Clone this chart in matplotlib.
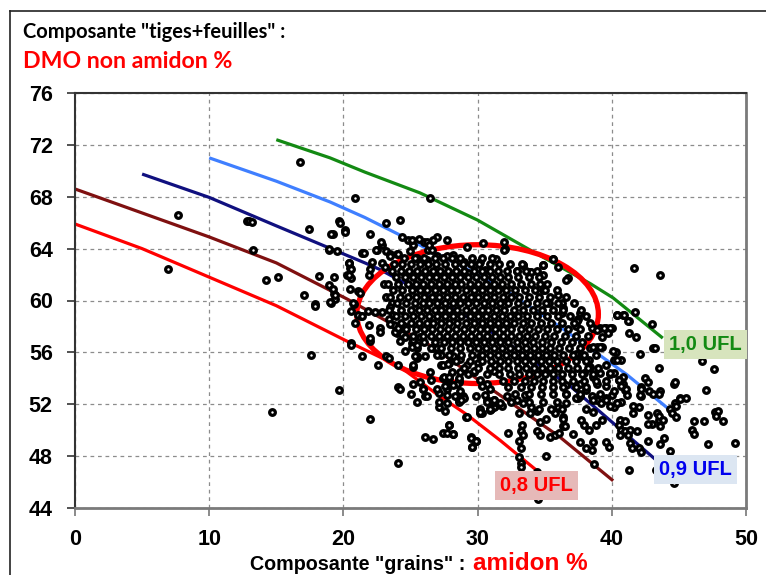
import matplotlib
matplotlib.use("Agg")
import matplotlib.pyplot as plt
from matplotlib.patches import Ellipse
from matplotlib.lines import Line2D

# ---------------- data ----------------
x_ticks = [0, 10, 20, 30, 40, 50]
y_ticks = [44, 48, 52, 56, 60, 64, 68, 72, 76]

# iso-UFL curves (amidon %, DMO non amidon %)
ufl080_x = [0, 5, 10, 15, 20, 24.2, 27.2, 29.2, 31.7, 34.4]
ufl080_y = [65.9, 64.0, 61.8, 59.6, 57.0, 54.9, 52.6, 51.2, 49.2, 46.9]
ufl085_x = [0, 10, 15, 20.3, 26.7, 30.7, 36.1, 40.1]
ufl085_y = [68.6, 64.9, 62.9, 60.1, 56.4, 53.4, 49.5, 46.1]
ufl090_x = [5, 10, 14.9, 21.6, 22.7, 30.0, 36.9, 43.3, 44.9]
ufl090_y = [69.75, 67.95, 65.8, 62.9, 62.4, 58.3, 53.4, 47.7, 46.0]
ufl095_x = [10, 15, 19, 21.6, 24.5, 28.9, 32.2, 36.1, 41.1, 45.1]
ufl095_y = [71.0, 69.2, 67.6, 66.4, 64.9, 62.6, 60.7, 58.0, 54.3, 50.9]
ufl100_x = [15, 19, 21.6, 25.7, 30.0, 33.9, 38.4, 40.1, 43.8]
ufl100_y = [72.4, 71.0, 69.9, 68.3, 66.2, 63.9, 61.3, 60.2, 57.1]

# ellipse of the main cloud
ell_center = (30.0, 58.95)
ell_width = 18.0
ell_height = 10.7

# sample points (amidon %, DMO non amidon %) - outer / sparse
outer_points = [
    (16.8,70.7),(20.9,67.9),(26.45,67.9),(7.7,66.6),(12.8,66.1),(13.0,66.1),(13.2,66.05),
    (17.4,65.5),(19.7,66.1),(20.1,65.4),(19.2,65.1),(13.3,63.9),(18.9,63.9),(19.5,63.8),
    (21.4,63.7),(6.9,62.4),(20.4,62.9),(20.5,62.5),(20.3,62.0),(20.6,61.7),(18.2,61.9),
    (19.3,61.8),(15.1,61.8),(14.2,61.6),(18.9,61.2),(20.5,60.9),(21.1,60.7),(17.1,60.4),
    (19.3,60.5),(19.4,60.1),(19.1,59.8),(17.9,59.7),(20.8,59.7),(20.6,59.2),(21.3,58.8),
    (21.1,58.9),(20.9,58.3),(20.6,56.7),(17.6,55.8),(14.7,51.4),(19.7,53.1),(22.0,50.9),
    (24.1,47.5),(21.4,55.7),(22.6,55.0),(24.1,53.3),(25.0,52.8),(25.5,52.2),(26.1,52.6),
    (27.1,51.8),(27.6,51.5),(26.1,49.5),(26.7,49.3),(27.4,49.8),(27.9,50.4),(28.2,49.7),
    (29.1,51.0),(29.5,49.5),(29.9,49.2),(29.6,48.7),(27.1,52.9),(27.7,53.2),(28.6,52.3),
    (28.9,52.6),(29.9,52.6),(30.2,51.3),(30.7,52.3),(31.0,51.6),(31.3,51.9),(25.2,53.6),
    (25.7,53.7),(25.9,53.2),(26.5,53.9),(23.2,55.7),(23.4,55.6),(24.1,55.0),(25.2,54.9),
    (25.5,55.6),(26.1,55.7),(24.6,56.1),(27.3,55.0),(27.9,55.2),(27.4,54.0),(27.9,54.0),
    (28.6,53.9),(21.9,58.1),(22.7,57.9),(22.7,57.6),(22.0,56.9),(21.85,59.2),(22.35,59.1),
    (22.85,59.1),(23.6,59.8),(23.8,58.1),(24.5,58.0),(24.0,57.5),(24.2,56.9),(25.2,57.1),
    (25.1,56.7),(25.5,56.3),(25.7,57.2),(25.5,55.7),(25.2,55.0),(26.7,56.3),(26.95,56.3),
    (27.3,55.8),(27.4,55.0),(27.8,55.1),(28.2,55.7),(28.7,55.5),(29.2,55.0),(30.05,55.2),
    (30.2,55.7),(26.45,54.5),(28.6,53.7),(28.1,54.5),(28.7,54.5),(29.7,54.5),(30.2,53.9),
    (30.7,54.3),(31.2,54.6),(31.3,55.0),(30.7,53.6),(30.9,53.2),(30.55,52.7),(31.2,52.3),
    (31.2,51.8),(30.9,51.6),(30.2,51.6),
    (19.75,66.0),(20.1,65.3),(19.1,65.1),(22.0,65.1),(18.95,63.95),(21.5,63.7),(22.5,63.9),
    (22.9,64.3),(23.2,63.8),(23.5,63.6),(24.0,63.6),(20.45,62.9),(20.6,62.4),(20.4,62.0),
    (22.0,62.4),(21.9,62.0),(22.1,63.0),(22.9,62.9),(17.9,59.6),(19.0,59.9),(19.4,60.4),
    (19.25,60.9),(21.2,60.6),(20.7,59.8),(21.4,58.8),(22.0,57.1),(20.6,56.6),(23.1,62.6),
    (23.0,61.3),(23.2,60.3),(23.5,59.5),(23.7,58.9),(23.4,58.55),(23.5,58.2),(23.85,57.6),
    (24.1,57.9),(24.35,57.4),(24.6,57.2),(25.2,56.95),(25.1,56.4),(25.5,56.6),(25.35,55.7),
    (24.2,53.2),(25.95,53.15),(26.2,52.6),(27.1,52.2),(27.7,52.1),(26.95,53.2),(27.7,53.5),
    (28.45,53.6),(29.3,54.3),(29.7,54.6),(30.3,53.4),(31.2,52.2),(31.8,51.9),(30.3,51.35),
    (30.9,51.55),(28.6,52.2),(29.0,52.5),
    (24.85,64.7),(25.2,64.3),(26.0,64.5),(26.95,64.9),(26.7,64.7),(26.3,63.9),(24.95,63.8),
    (25.5,63.25),(26.2,63.1),(26.95,63.4),(27.7,63.4),(28.2,63.5),(28.95,63.0),(29.7,62.7),
    (30.2,63.0),(30.55,62.35),(29.3,62.1),(30.4,64.4),(32.05,63.95),(33.9,62.2),(34.65,61.3),
    (34.9,60.8),(23.2,66.0),(24.2,66.2),(22.8,64.5),(22.4,63.9),(23.5,63.4),(24.1,63.6),
    (24.4,64.9),(25.1,64.7),(25.65,64.75),(26.2,64.5),(27.7,64.7),(26.6,63.9),(26.4,64.3),
    (29.2,64.1),(32.0,64.5),(32.0,63.9),(31.4,63.2),(33.4,62.7),(34.9,62.7),(35.6,63.2),
    (36.0,62.6),(41.65,62.5),
    (43.6,62.0),(36.7,61.7),(40.4,58.9),(40.8,58.9),(41.7,59.1),(41.3,58.4),(43.0,58.2),
    (41.3,57.5),(41.8,57.2),(43.1,56.3),(43.2,56.35),(42.1,55.9),(40.3,56.0),(43.5,54.8),
    (46.7,55.3),(47.6,54.7),(44.6,53.6),(44.7,53.7),(47.0,53.1),(45.1,52.5),(45.5,52.5),
    (39.1,57.9),(39.6,57.9),(40.0,57.9),(39.3,56.4),(38.9,56.4),(38.4,56.3),(38.6,57.9),
    (39.3,57.2),(40.2,55.4),(40.7,55.4),(39.9,54.3),(40.2,54.4),(40.8,54.1),(40.5,53.9),
    (40.8,53.6),(41.0,53.1),(42.2,53.3),(42.5,54.0),(42.7,53.7),(42.8,53.0),(42.2,52.6),
    (43.6,53.0),
    (45.1,52.4),(44.7,52.1),(44.8,51.9),(44.3,51.6),(44.5,51.3),(44.8,51.0),(47.7,51.4),
    (47.9,51.5),(47.8,51.1),(48.3,50.7),(46.9,50.7),(46.1,50.7),(46.0,50.0),(46.1,49.7),
    (47.2,48.9),(49.2,49.0),(43.9,49.4),(43.6,48.9),(44.3,48.4),(42.7,49.2),(41.3,46.9),
    (43.3,46.9),(44.6,45.9),(38.7,47.4),(43.1,52.8),(43.5,52.8),(43.0,50.5),(43.6,50.3),
    (43.5,50.8),(42.7,51.2),(43.4,51.3),(43.5,51.1),(43.8,50.8),
    (42.1,52.7),(42.2,53.2),(41.05,53.15),(41.1,52.7),(42.0,51.8),(41.55,51.9),(41.6,51.3),
    (40.7,52.15),(40.2,51.8),(40.6,50.8),(41.0,50.7),(40.5,50.4),(40.7,50.0),(41.0,49.9),
    (41.35,50.0),(41.2,49.6),(40.6,49.6),(41.35,49.0),(41.5,48.6),(42.0,48.6),(42.2,48.3),
    (42.7,50.5),(41.9,49.9),(36.4,51.0),(36.4,50.3),(37.1,49.7),(37.6,49.1),(38.6,49.1),
    (38.1,48.6),(38.5,48.5),(39.6,49.1),(39.8,48.7),(38.8,50.4),(39.3,50.8),(38.3,50.0),
    (37.9,50.4),(37.7,50.8),(38.1,51.6),(38.6,51.4),(37.5,52.5),(37.3,52.5),(36.6,52.8),
    (36.6,53.5),(38.5,52.6),(38.9,52.3),(39.2,52.1),(39.9,51.9),(40.4,52.1),(39.6,52.5),
    (40.0,52.7),(40.2,53.0),
    (29.2,51.0),(30.2,51.4),(27.7,49.8),(28.2,49.7),(27.9,50.4),(29.5,49.4),(29.9,49.2),
    (29.6,48.7),(32.3,49.8),(33.1,51.3),(33.3,50.4),(33.2,49.9),(33.4,49.6),(33.1,49.2),
    (33.2,48.6),(33.1,47.9),(33.2,47.5),(33.2,47.2),(34.4,46.8),(34.5,44.7),(35.1,48.0),
    (34.4,49.9),(34.65,49.6),(35.4,49.5),(35.8,49.6),(36.1,49.8),(36.5,50.3),(36.4,50.9),
    (35.8,51.3),(36.0,51.8),(36.6,52.1),(34.65,50.6),(35.1,50.9),(33.9,51.3),(34.0,51.8),
    (34.4,51.5),(27.7,52.7),(28.3,52.6),(28.8,52.3),(28.7,53.0),(27.6,53.4),(28.2,53.5),
    (28.6,54.0),(27.5,54.1),(27.9,54.1),(30.7,52.2),(31.2,52.3),(30.9,51.6),(31.7,52.1),
    (32.2,52.6),(32.5,52.2),(32.9,52.3),(33.5,52.7),(33.4,52.1),
    (35.6,63.2),(33.4,62.7),(34.0,62.2),(32.9,62.3),(34.9,62.7),(34.85,62.0),(36.6,61.6),
    (36.0,60.4),(35.35,59.8),(36.3,59.8),(36.4,59.4),(36.3,59.0),(37.6,59.0),(37.5,58.6),
    (37.4,58.4),(37.3,58.0),(38.5,57.9),(38.9,57.7),(39.4,57.9),(39.9,57.9),(39.7,57.5),
    (40.4,58.9),(40.9,58.9),(41.2,58.4),(38.6,56.4),(39.1,56.4),(40.1,56.1),(40.4,55.4),
    (39.6,55.0),(39.9,54.4),(40.5,53.9),(40.7,53.4),(39.6,53.4),(37.3,55.9),(37.8,55.7),
    (38.3,55.4),(38.4,54.9),(37.9,54.4),(38.6,54.1),(39.1,54.4),(38.9,53.6),(37.6,53.6),
    (38.1,53.1),(39.1,52.8),(39.6,52.3),(40.4,52.1),(38.6,52.3),(37.6,52.6),
]

# dense core of the cloud, read row by row (DMO value: amidon values)
core_rows_y = [63.3, 62.8, 62.3, 61.8, 61.3, 60.8, 60.3, 59.8, 59.3, 58.8, 58.3,
               57.8, 57.3, 56.8, 56.3, 55.8, 55.3, 54.8, 54.3, 53.8, 53.3, 52.8,
               52.2, 51.6]
core_rows_x = [
    [24.5, 25.3, 26.0, 26.8, 27.4, 28.1, 28.7, 29.6, 30.3, 31.1],
    [23.8, 24.4, 25.0, 25.7, 26.3, 26.9, 27.6, 28.3, 28.9, 29.5, 30.1, 30.9, 31.6, 32.4, 33.3],
    [23.6, 24.3, 24.9, 25.5, 26.1, 26.7, 27.2, 27.8, 28.4, 29.0, 29.7, 30.3, 30.9, 31.5, 32.2, 32.9, 33.6, 34.4],
    [23.9, 24.6, 25.2, 25.8, 26.4, 26.9, 27.5, 28.1, 28.7, 29.3, 29.9, 30.5, 31.1, 31.7, 32.3, 33.0, 33.8, 34.6],
    [23.3, 24.1, 24.8, 25.4, 25.9, 26.5, 27.1, 27.7, 28.3, 28.8, 29.4, 30.0, 30.6, 31.2, 31.8, 32.5, 33.2, 34.0, 35.2],
    [23.7, 24.4, 25.1, 25.7, 26.2, 26.8, 27.4, 28.0, 28.5, 29.1, 29.7, 30.3, 30.9, 31.5, 32.1, 32.8, 33.5, 34.3, 35.0, 35.9],
    [23.5, 24.2, 24.8, 25.4, 26.0, 26.6, 27.1, 27.7, 28.3, 28.9, 29.5, 30.0, 30.6, 31.2, 31.9, 32.5, 33.1, 33.8, 34.6, 35.4, 36.6],
    [24.0, 24.7, 25.3, 25.9, 26.4, 27.0, 27.6, 28.2, 28.7, 29.3, 29.9, 30.5, 31.1, 31.7, 32.3, 33.0, 33.7, 34.4, 35.1, 36.0, 37.2],
    [23.4, 24.3, 25.0, 25.6, 26.2, 26.8, 27.3, 27.9, 28.5, 29.1, 29.7, 30.3, 30.8, 31.4, 32.0, 32.7, 33.4, 34.1, 34.8, 35.6, 36.4, 37.7],
    [23.9, 24.6, 25.2, 25.8, 26.4, 27.0, 27.6, 28.2, 28.8, 29.4, 30.0, 30.6, 31.2, 31.8, 32.4, 33.0, 33.7, 34.4, 35.2, 36.0, 36.9, 38.1],
    [24.3, 25.0, 25.6, 26.2, 26.7, 27.3, 27.9, 28.5, 29.1, 29.7, 30.3, 30.9, 31.5, 32.1, 32.7, 33.4, 34.0, 34.7, 35.5, 36.3, 37.2, 38.4],
    [24.7, 25.4, 26.0, 26.6, 27.2, 27.8, 28.4, 29.0, 29.6, 30.2, 30.7, 31.3, 31.9, 32.5, 33.2, 33.8, 34.5, 35.2, 35.9, 36.7, 37.6],
    [25.2, 25.9, 26.5, 27.1, 27.7, 28.3, 28.9, 29.5, 30.1, 30.7, 31.3, 31.9, 32.5, 33.1, 33.7, 34.3, 35.0, 35.7, 36.5, 37.3, 38.2],
    [26.0, 26.8, 27.5, 28.1, 28.7, 29.3, 29.9, 30.5, 31.1, 31.7, 32.3, 32.9, 33.5, 34.1, 34.8, 35.5, 36.2, 37.0, 37.8],
    [26.5, 27.3, 28.0, 28.7, 29.4, 30.0, 30.6, 31.2, 31.8, 32.4, 33.0, 33.6, 34.2, 34.8, 35.4, 36.1, 36.8, 37.6],
    [27.0, 27.9, 28.8, 29.6, 30.3, 30.9, 31.5, 32.1, 32.7, 33.3, 33.9, 34.5, 35.1, 35.7, 36.4, 37.1, 37.9, 38.8],
    [28.4, 29.4, 30.3, 31.0, 31.7, 32.3, 32.9, 33.5, 34.1, 34.7, 35.3, 35.9, 36.6, 37.3, 38.1],
    [29.0, 30.0, 30.9, 31.6, 32.3, 33.0, 33.6, 34.2, 34.8, 35.4, 36.0, 36.7, 37.4, 38.2, 39.0],
    [31.6, 32.4, 33.1, 33.8, 34.4, 35.0, 35.6, 36.3, 37.0, 37.8, 38.6],
    [31.9, 32.7, 33.5, 34.2, 34.9, 35.6, 36.3, 37.1, 37.9, 38.8, 39.6],
    [32.3, 33.2, 34.0, 34.8, 35.6, 36.4, 37.3, 38.1],
    [32.8, 33.8, 34.7, 35.6, 36.6, 37.6],
    [33.8, 34.9, 35.9],
    [34.6, 35.5, 36.3],
]

labels_text = ["1,0 UFL", "0,9 UFL", "0,8 UFL"]
labels_pos = [(46.98, 56.6), (46.24, 47.0), (34.4, 45.74)]

# ---------------- figure ----------------
W, H = 766, 575
fig = plt.figure(figsize=(W / 100, H / 100), dpi=100)
ax = fig.add_axes([75 / W, 1 - 508 / H, (746 - 75) / W, (508 - 93) / H])

ax.set_xlim(0, 50)
ax.set_ylim(44, 76)
ax.set_xticks(x_ticks)
ax.set_yticks(y_ticks)
ax.grid(True, color="#8c8c8c", linestyle=(0, (3, 3)), linewidth=0.9)
ax.set_axisbelow(True)

tick_font = dict(family="Liberation Sans", weight="bold", size=15.5)
ax.set_xticklabels([str(v) for v in x_ticks], fontdict=tick_font)
ax.set_yticklabels([str(v) for v in y_ticks], fontdict=tick_font)
ax.tick_params(axis="x", direction="out", length=6, width=1.2, color="#777777", pad=9)
ax.tick_params(axis="y", direction="out", length=6, width=1.2, color="#333333", pad=10)

for side in ["left", "top"]:
    ax.spines[side].set_color("#333333")
    ax.spines[side].set_linewidth(1.5)
for side in ["bottom", "right"]:
    ax.spines[side].set_color("#7a7a7a")
    ax.spines[side].set_linewidth(2.0)

# curves
for cx, cy, col in [(ufl080_x, ufl080_y, "#ff0000"), (ufl085_x, ufl085_y, "#7f1010"),
                    (ufl090_x, ufl090_y, "#10107f"), (ufl095_x, ufl095_y, "#3f7fff"),
                    (ufl100_x, ufl100_y, "#138a13")]:
    ax.plot(cx, cy, color=col, lw=2.3, zorder=2, solid_capstyle="butt",
            solid_joinstyle="round")

ax.add_patch(Ellipse(ell_center, ell_width, ell_height, fill=False,
                     edgecolor="#ff0000", linewidth=3.8, zorder=2.5))

# points
px = [p[0] for p in outer_points]
py = [p[1] for p in outer_points]
for yv, row in zip(core_rows_y, core_rows_x):
    for xv in row:
        px.append(xv)
        py.append(yv)
ax.plot(px, py, linestyle="none", marker="o", ms=4.1, mew=2.3,
        mfc="white", mec="black", zorder=3, clip_on=False)

# UFL labels
label_styles = [("#138a13", "#d7e4bd"), ("#0000ee", "#dce6f2"), ("#ff0000", "#e6b9b8")]
for txt, (lx, ly), (tc, bc) in zip(labels_text, labels_pos, label_styles):
    ax.text(lx, ly, txt, color=tc, fontsize=14.5, family="Liberation Sans",
            weight="bold", ha="center", va="center", zorder=5,
            bbox=dict(boxstyle="square,pad=0.25", fc=bc, ec="none"))

# titles
fig.text(23 / W, 1 - 38 / H, 'Composante "tiges+feuilles" :', fontsize=14.5,
         weight="bold", family="Lato", color="black", ha="left", va="baseline")
fig.text(23 / W, 1 - 68 / H, "DMO non amidon %", fontsize=16.7,
         weight="bold", family="Lato", color="#ff0000", ha="left", va="baseline")

t1 = fig.text(250 / W, 1 - 570 / H, 'Composante "grains" : ', fontsize=14.2,
              weight="bold", family="Liberation Sans", color="black",
              ha="left", va="baseline")
fig.canvas.draw()
bb = t1.get_window_extent(renderer=fig.canvas.get_renderer())
fig.text(bb.x1 / W + 2 / W, 1 - 570 / H, "amidon %", fontsize=17.5,
         weight="bold", family="Liberation Sans", color="#ff0000",
         ha="left", va="baseline")

# outer frame (left and top edges)
fig.add_artist(Line2D([10 / W, 10 / W], [0, 1 - 11 / H], color="#222222", lw=1.2,
                      transform=fig.transFigure))
fig.add_artist(Line2D([10 / W, 1], [1 - 11 / H, 1 - 11 / H], color="#222222", lw=1.2,
                      transform=fig.transFigure))

fig.savefig("out.png", dpi=100)
